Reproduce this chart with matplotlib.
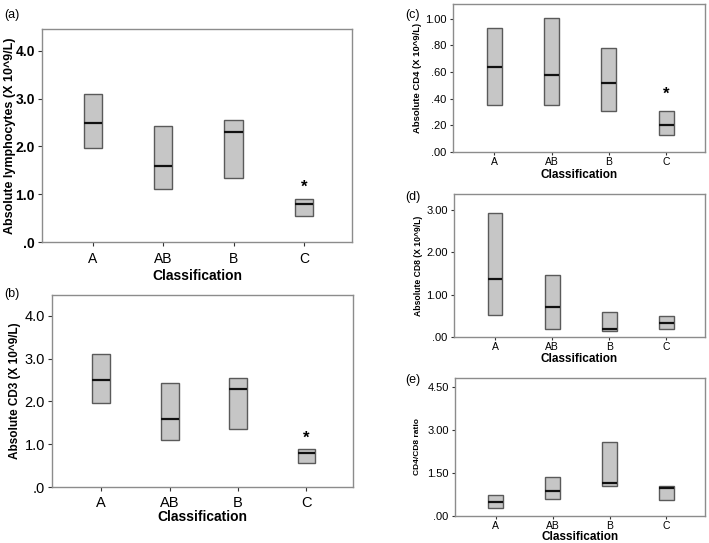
import matplotlib
matplotlib.use("Agg")
import matplotlib.pyplot as plt
import numpy as np

categories = ["A", "AB", "B", "C"]

# (a) Absolute lymphocytes
lym_q1 = [1.97, 1.10, 1.35, 0.55]
lym_med = [2.50, 1.60, 2.30, 0.80]
lym_q3 = [3.10, 2.43, 2.55, 0.90]

# (b) Absolute CD3
cd3_q1 = [1.97, 1.10, 1.35, 0.55]
cd3_med = [2.50, 1.60, 2.30, 0.80]
cd3_q3 = [3.10, 2.43, 2.55, 0.90]

# (c) Absolute CD4
cd4_q1 = [0.35, 0.355, 0.305, 0.125]
cd4_med = [0.635, 0.58, 0.52, 0.20]
cd4_q3 = [0.93, 1.005, 0.78, 0.31]

# (d) Absolute CD8
cd8_q1 = [0.53, 0.20, 0.15, 0.18]
cd8_med = [1.38, 0.70, 0.18, 0.32]
cd8_q3 = [2.92, 1.47, 0.58, 0.50]

# (e) CD4/CD8 ratio
ratio_q1 = [0.28, 0.60, 1.05, 0.55]
ratio_med = [0.50, 0.87, 1.15, 0.97]
ratio_q3 = [0.72, 1.37, 2.58, 1.05]

yticks_a = [0.0, 1.0, 2.0, 3.0, 4.0]
ytl_a = [".0", "1.0", "2.0", "3.0", "4.0"]
yticks_c = [0.0, 0.2, 0.4, 0.6, 0.8, 1.0]
ytl_c = [".00", ".20", ".40", ".60", ".80", "1.00"]
yticks_d = [0.0, 1.0, 2.0, 3.0]
ytl_d = [".00", "1.00", "2.00", "3.00"]
yticks_e = [0.0, 1.5, 3.0, 4.5]
ytl_e = [".00", "1.50", "3.00", "4.50"]

FONT = "Liberation Sans"
BOX_FACE = "#c6c6c6"
BOX_EDGE = "#5a5a5a"
SPINE = "#8c8c8c"

fig = plt.figure(figsize=(7.09, 5.43), dpi=100)


def panel(rect, q1, med, q3, yticks, ytl, ylim, ylabel, letter, letter_xy,
          star=None, tick_fs=8.5, tick_weight="normal", ylabel_fs=8.5,
          xl_fs=9, xtick_fs=8.5, xpad=2, xl_y=-0.15, yl_x=-0.12,
          letter_fs=9, ticklen=3):
    ax = fig.add_axes(rect)
    x = np.arange(len(categories))
    w = 0.26
    q1 = np.array(q1)
    q3 = np.array(q3)
    ax.bar(x, q3 - q1, bottom=q1, width=w, color=BOX_FACE,
           edgecolor=BOX_EDGE, linewidth=1.0, zorder=2)
    ax.hlines(med, x - w / 2, x + w / 2, colors="#111111", linewidth=1.6,
              zorder=3)
    ax.set_xlim(-0.72, 3.68)
    ax.set_ylim(*ylim)
    ax.set_xticks(x)
    ax.set_xticklabels(categories, fontfamily=FONT, fontsize=xtick_fs)
    ax.set_yticks(yticks)
    ax.set_yticklabels(ytl, fontfamily=FONT, fontsize=tick_fs,
                       fontweight=tick_weight)
    for s in ax.spines.values():
        s.set_color(SPINE)
        s.set_linewidth(1.0)
    ax.tick_params(direction="out", length=ticklen, width=0.8,
                   color="#333333", pad=2)
    ax.tick_params(axis="x", pad=xpad)
    ax.set_xlabel("Classification", fontfamily=FONT, fontweight="bold",
                  fontsize=xl_fs)
    ax.xaxis.label.set_va("baseline")
    ax.xaxis.set_label_coords(0.5, xl_y)
    ax.set_ylabel(ylabel, fontfamily=FONT, fontweight="bold",
                  fontsize=ylabel_fs)
    ax.yaxis.label.set_va("center")
    ax.yaxis.set_label_coords(yl_x, 0.5)
    if star is not None:
        ax.text(star[0], star[1], "*", ha="center", va="center",
                fontfamily=FONT, fontweight="bold", fontsize=12)
    fig.text(letter_xy[0], letter_xy[1], letter, fontfamily=FONT,
             fontsize=letter_fs, ha="left", va="center")
    return ax


panel([0.0592, 0.5543, 0.4373, 0.3923], lym_q1, lym_med, lym_q3,
      yticks_a, ytl_a, (0, 4.46), "Absolute lymphocytes (X 10^9/L)", "(a)",
      (0.006, 0.972), star=(3, 1.15), tick_fs=10, tick_weight="bold",
      ylabel_fs=9, xl_fs=10, xtick_fs=10, xpad=4, xl_y=-0.178, yl_x=-0.103)

panel([0.0733, 0.1031, 0.4246, 0.3536], cd3_q1, cd3_med, cd3_q3,
      yticks_a, ytl_a, (0, 4.49), "Absolute CD3 (X 10^9/L)", "(b)",
      (0.006, 0.458), star=(3, 1.15), tick_fs=10.5, ylabel_fs=8.5,
      xl_fs=10, xtick_fs=10.5, xpad=3.5, xl_y=-0.176, yl_x=-0.123)

panel([0.6389, 0.7201, 0.3555, 0.2725], cd4_q1, cd4_med, cd4_q3,
      yticks_c, ytl_c, (0, 1.11), "Absolute CD4 (X 10^9/L)", "(c)",
      (0.572, 0.972), star=(3, 0.43), tick_fs=8, ylabel_fs=6.8,
      xl_fs=8.5, xtick_fs=7.5, xpad=1.2, xl_y=-0.176, yl_x=-0.139,
      ticklen=2.5)

panel([0.6403, 0.3794, 0.3541, 0.2634], cd8_q1, cd8_med, cd8_q3,
      yticks_d, ytl_d, (0, 3.38), "Absolute CD8 (X 10^9/L)", "(d)",
      (0.572, 0.637), tick_fs=8, ylabel_fs=6.2,
      xl_fs=8.5, xtick_fs=7.5, xpad=1.2, xl_y=-0.178, yl_x=-0.143,
      ticklen=2.5)

panel([0.6417, 0.0497, 0.3527, 0.2541], ratio_q1, ratio_med, ratio_q3,
      yticks_e, ytl_e, (0, 4.81), "CD4/CD8 ratio", "(e)",
      (0.572, 0.300), tick_fs=8, ylabel_fs=6.0,
      xl_fs=8.5, xtick_fs=7.5, xpad=1.2, xl_y=-0.172, yl_x=-0.148,
      ticklen=2.5)

fig.savefig("out.png", dpi=100)
